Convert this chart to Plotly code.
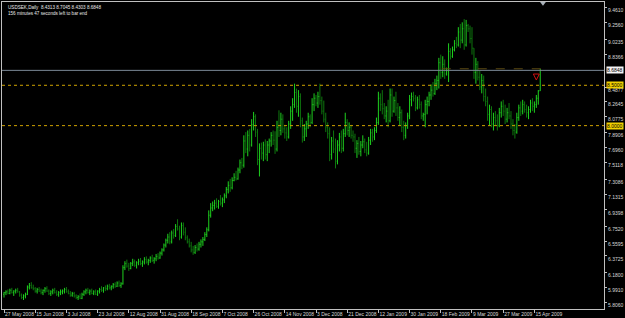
import plotly.graph_objects as go

# ---- daily USDSEK bars ----
open_ = [
    5.91, 5.93, 5.94, 5.92, 5.96, 5.93, 5.95, 5.96, 5.94, 5.90,
    5.87, 5.89, 5.91, 6.00, 6.02, 5.99, 5.98, 5.95, 5.97, 5.95,
    5.93, 5.96, 5.98, 5.95, 5.92, 5.94, 5.96, 5.93, 5.91, 5.93,
    5.94, 5.95, 5.97, 5.94, 5.92, 5.90, 5.92, 5.89, 5.87, 5.88,
    5.86, 5.91, 5.94, 5.96, 5.93, 5.95, 5.92, 5.94, 5.91, 5.95,
    5.97, 5.96, 5.99, 5.98, 6.01, 5.99, 6.01, 6.03, 6.01, 6.05,
    6.02, 6.04, 6.24, 6.29, 6.26, 6.23, 6.29, 6.31, 6.27, 6.30,
    6.32, 6.29, 6.31, 6.34, 6.31, 6.33, 6.36, 6.33, 6.35, 6.38,
    6.36, 6.42, 6.46, 6.52, 6.58, 6.62, 6.56, 6.67, 6.64, 6.75,
    6.72, 6.62, 6.76, 6.68, 6.61, 6.56, 6.51, 6.46, 6.43, 6.49,
    6.47, 6.53, 6.56, 6.59, 6.65, 6.71, 6.89, 6.98, 7.01, 7.04,
    7.00, 7.06, 7.04, 7.08, 7.13, 7.21, 7.26, 7.23, 7.32, 7.36,
    7.34, 7.45, 7.54, 7.51, 7.81, 7.71, 7.88, 7.76, 8.01, 8.11,
    7.92, 7.58, 7.72, 7.66, 7.76, 7.64, 7.76, 7.81, 7.88, 7.82,
    7.71, 7.98, 7.94, 8.08, 7.96, 7.91, 7.86, 8.02, 8.18, 8.26,
    8.41, 8.24, 8.36, 8.06, 7.86, 7.96, 8.02, 8.11, 8.04, 8.26,
    8.34, 8.28, 8.36, 8.31, 8.18, 8.08, 7.98, 7.90, 7.64, 7.81,
    7.71, 7.56, 7.76, 7.86, 7.72, 7.90, 8.04, 7.94, 7.98, 7.88,
    7.86, 7.72, 7.78, 7.68, 7.76, 7.80, 7.70, 7.66, 7.82, 7.91,
    7.86, 7.94, 8.04, 8.34, 8.26, 8.21, 8.12, 8.18, 8.06, 8.38,
    8.18, 8.31, 8.22, 8.10, 8.16, 7.98, 7.88, 8.00, 8.12, 8.32,
    8.36, 8.34, 8.22, 8.32, 8.26, 8.12, 8.14, 8.26, 8.30, 8.38,
    8.44, 8.40, 8.52, 8.56, 8.78, 8.66, 8.76, 8.64, 8.68, 8.92,
    8.86, 8.94, 9.02, 9.00, 9.16, 9.06, 9.20, 9.00, 9.24, 9.20,
    9.08, 8.96, 8.66, 8.76, 8.60, 8.48, 8.56, 8.36, 8.30, 8.14,
    8.20, 8.02, 8.10, 8.06, 8.00, 8.16, 8.24, 8.18, 8.08, 8.16,
    8.12, 8.02, 7.94, 7.92, 8.10, 8.22, 8.18, 8.26, 8.20, 8.16,
    8.20, 8.28, 8.24, 8.26, 8.34, 8.4313,
]
high = [
    5.94, 5.96, 5.97, 5.98, 5.99, 5.96, 5.98, 5.99, 5.95, 5.92,
    5.91, 5.93, 6.02, 6.05, 6.06, 6.03, 6.00, 5.99, 6.00, 5.98,
    5.97, 6.00, 6.01, 5.97, 5.96, 5.98, 5.99, 5.96, 5.95, 5.97,
    5.97, 5.99, 6.00, 5.97, 5.95, 5.94, 5.94, 5.91, 5.90, 5.92,
    5.93, 5.96, 5.98, 5.99, 5.97, 5.98, 5.96, 5.97, 5.96, 5.99,
    6.01, 6.00, 6.02, 6.03, 6.04, 6.02, 6.05, 6.06, 6.07, 6.08,
    6.06, 6.27, 6.32, 6.34, 6.30, 6.31, 6.35, 6.34, 6.32, 6.35,
    6.36, 6.33, 6.37, 6.38, 6.35, 6.38, 6.40, 6.37, 6.41, 6.42,
    6.44, 6.48, 6.54, 6.60, 6.66, 6.68, 6.70, 6.72, 6.78, 6.84,
    6.76, 6.80, 6.80, 6.74, 6.64, 6.60, 6.56, 6.51, 6.52, 6.54,
    6.56, 6.59, 6.62, 6.68, 6.74, 6.95, 7.04, 7.06, 7.08, 7.10,
    7.08, 7.14, 7.11, 7.16, 7.24, 7.31, 7.34, 7.36, 7.41, 7.44,
    7.48, 7.58, 7.60, 7.88, 7.92, 7.94, 7.96, 8.08, 8.17, 8.14,
    7.96, 7.78, 7.79, 7.80, 7.83, 7.81, 7.84, 7.92, 7.94, 7.93,
    8.06, 8.19, 8.16, 8.14, 8.01, 7.98, 8.06, 8.24, 8.34, 8.52,
    8.46, 8.44, 8.40, 8.10, 8.02, 8.06, 8.16, 8.14, 8.34, 8.40,
    8.38, 8.42, 8.52, 8.36, 8.31, 8.16, 8.04, 7.98, 7.86, 7.94,
    7.84, 7.82, 7.91, 7.94, 7.96, 8.16, 8.08, 8.04, 8.01, 7.94,
    7.90, 7.82, 7.86, 7.81, 7.88, 7.84, 7.80, 7.86, 7.96, 7.96,
    7.98, 8.10, 8.42, 8.40, 8.44, 8.28, 8.24, 8.32, 8.46, 8.46,
    8.36, 8.42, 8.28, 8.24, 8.20, 8.06, 8.04, 8.16, 8.38, 8.41,
    8.42, 8.38, 8.36, 8.38, 8.30, 8.16, 8.32, 8.36, 8.42, 8.51,
    8.54, 8.58, 8.62, 8.84, 8.88, 8.86, 8.82, 8.72, 9.02, 8.96,
    8.98, 9.06, 9.10, 9.22, 9.26, 9.28, 9.32, 9.31, 9.26, 9.24,
    9.22, 8.96, 8.84, 8.80, 8.68, 8.64, 8.62, 8.46, 8.36, 8.26,
    8.24, 8.16, 8.18, 8.14, 8.22, 8.30, 8.32, 8.26, 8.22, 8.28,
    8.18, 8.08, 8.02, 8.16, 8.26, 8.30, 8.32, 8.30, 8.26, 8.24,
    8.32, 8.34, 8.30, 8.38, 8.44, 8.7045,
]
low = [
    5.87, 5.90, 5.91, 5.91, 5.92, 5.89, 5.92, 5.93, 5.88, 5.85,
    5.84, 5.86, 5.90, 5.97, 5.98, 5.96, 5.93, 5.92, 5.94, 5.91,
    5.90, 5.93, 5.94, 5.90, 5.89, 5.91, 5.92, 5.89, 5.88, 5.90,
    5.91, 5.92, 5.93, 5.91, 5.88, 5.88, 5.87, 5.85, 5.84, 5.85,
    5.85, 5.89, 5.91, 5.92, 5.90, 5.91, 5.90, 5.90, 5.89, 5.92,
    5.94, 5.93, 5.95, 5.96, 5.97, 5.96, 5.98, 5.99, 6.00, 6.00,
    5.99, 6.03, 6.21, 6.24, 6.20, 6.22, 6.26, 6.25, 6.23, 6.27,
    6.27, 6.25, 6.28, 6.29, 6.27, 6.30, 6.31, 6.29, 6.32, 6.34,
    6.35, 6.39, 6.44, 6.49, 6.54, 6.53, 6.54, 6.60, 6.62, 6.70,
    6.58, 6.60, 6.64, 6.58, 6.54, 6.49, 6.43, 6.40, 6.41, 6.44,
    6.45, 6.49, 6.51, 6.57, 6.62, 6.69, 6.86, 6.94, 6.96, 6.98,
    6.97, 7.01, 6.99, 7.04, 7.10, 7.16, 7.18, 7.21, 7.31, 7.32,
    7.33, 7.41, 7.46, 7.48, 7.66, 7.62, 7.68, 7.74, 7.94, 7.86,
    7.51, 7.37, 7.58, 7.56, 7.58, 7.56, 7.66, 7.74, 7.76, 7.65,
    7.68, 7.86, 7.88, 7.91, 7.84, 7.81, 7.84, 7.96, 8.06, 8.22,
    8.16, 8.11, 7.98, 7.79, 7.81, 7.86, 7.96, 7.98, 8.02, 8.18,
    8.24, 8.22, 8.26, 8.14, 8.04, 7.92, 7.84, 7.56, 7.58, 7.66,
    7.47, 7.52, 7.68, 7.66, 7.68, 7.86, 7.88, 7.86, 7.84, 7.80,
    7.66, 7.60, 7.64, 7.62, 7.72, 7.66, 7.62, 7.64, 7.76, 7.80,
    7.82, 7.91, 8.01, 8.18, 8.14, 8.08, 8.04, 7.98, 8.04, 8.11,
    8.16, 8.12, 8.06, 8.00, 7.92, 7.82, 7.84, 7.96, 8.08, 8.24,
    8.30, 8.18, 8.20, 8.21, 8.08, 8.06, 7.98, 8.14, 8.24, 8.32,
    8.36, 8.38, 8.44, 8.46, 8.58, 8.60, 8.58, 8.62, 8.54, 8.82,
    8.84, 8.92, 8.96, 8.98, 8.96, 9.02, 8.94, 8.98, 9.16, 9.02,
    8.88, 8.58, 8.52, 8.56, 8.44, 8.40, 8.30, 8.24, 8.06, 8.00,
    7.98, 7.94, 8.00, 7.94, 7.98, 8.10, 8.12, 8.02, 8.04, 8.08,
    7.96, 7.88, 7.84, 7.90, 8.06, 8.12, 8.14, 8.16, 8.10, 8.08,
    8.16, 8.18, 8.16, 8.22, 8.26, 8.4303,
]
close = [
    5.93, 5.94, 5.92, 5.96, 5.93, 5.95, 5.96, 5.94, 5.90, 5.87,
    5.89, 5.91, 6.00, 6.02, 5.99, 5.98, 5.95, 5.97, 5.95, 5.93,
    5.96, 5.98, 5.95, 5.92, 5.94, 5.96, 5.93, 5.91, 5.93, 5.94,
    5.95, 5.97, 5.94, 5.92, 5.90, 5.92, 5.89, 5.87, 5.88, 5.86,
    5.91, 5.94, 5.96, 5.93, 5.95, 5.92, 5.94, 5.91, 5.95, 5.97,
    5.96, 5.99, 5.98, 6.01, 5.99, 6.01, 6.03, 6.01, 6.05, 6.02,
    6.04, 6.24, 6.29, 6.26, 6.23, 6.29, 6.31, 6.27, 6.30, 6.32,
    6.29, 6.31, 6.34, 6.31, 6.33, 6.36, 6.33, 6.35, 6.38, 6.36,
    6.42, 6.46, 6.52, 6.58, 6.62, 6.56, 6.67, 6.64, 6.75, 6.72,
    6.62, 6.76, 6.68, 6.61, 6.56, 6.51, 6.46, 6.43, 6.49, 6.47,
    6.53, 6.56, 6.59, 6.65, 6.71, 6.89, 6.98, 7.01, 7.04, 7.00,
    7.06, 7.04, 7.08, 7.13, 7.21, 7.26, 7.23, 7.32, 7.36, 7.34,
    7.45, 7.54, 7.51, 7.81, 7.71, 7.88, 7.76, 8.01, 8.11, 7.92,
    7.58, 7.72, 7.66, 7.76, 7.64, 7.76, 7.81, 7.88, 7.82, 7.71,
    7.98, 7.94, 8.08, 7.96, 7.91, 7.86, 8.02, 8.18, 8.26, 8.41,
    8.24, 8.36, 8.06, 7.86, 7.96, 8.02, 8.11, 8.04, 8.26, 8.34,
    8.28, 8.36, 8.31, 8.18, 8.08, 7.98, 7.90, 7.64, 7.81, 7.71,
    7.56, 7.76, 7.86, 7.72, 7.90, 8.04, 7.94, 7.98, 7.88, 7.86,
    7.72, 7.78, 7.68, 7.76, 7.80, 7.70, 7.66, 7.82, 7.91, 7.86,
    7.94, 8.04, 8.34, 8.26, 8.21, 8.12, 8.18, 8.06, 8.38, 8.18,
    8.31, 8.22, 8.10, 8.16, 7.98, 7.88, 8.00, 8.12, 8.32, 8.36,
    8.34, 8.22, 8.32, 8.26, 8.12, 8.14, 8.26, 8.30, 8.38, 8.44,
    8.40, 8.52, 8.56, 8.78, 8.66, 8.76, 8.64, 8.68, 8.92, 8.86,
    8.94, 9.02, 9.00, 9.16, 9.06, 9.20, 9.00, 9.24, 9.20, 9.08,
    8.96, 8.66, 8.76, 8.60, 8.48, 8.56, 8.36, 8.30, 8.14, 8.20,
    8.02, 8.10, 8.06, 8.00, 8.16, 8.24, 8.18, 8.08, 8.16, 8.12,
    8.02, 7.94, 7.92, 8.10, 8.22, 8.18, 8.26, 8.20, 8.16, 8.20,
    8.28, 8.24, 8.26, 8.34, 8.43, 8.6848,
]

date_labels = ["27 May 2008", "15 Jun 2008", "3 Jul 2008", "23 Jul 2008",
               "12 Aug 2008", "31 Aug 2008", "18 Sep 2008", "7 Oct 2008",
               "26 Oct 2008", "14 Nov 2008", "3 Dec 2008", "21 Dec 2008",
               "12 Jan 2009", "30 Jan 2009", "18 Feb 2009", "9 Mar 2009",
               "27 Mar 2009", "15 Apr 2009"]
bars_per_label = 16

# price-scale label texts, as printed on the chart
price_labels = ["9.4610", "9.2560", "9.0235", "8.8366", "8.4877", "8.2645",
                "8.0775", "7.8906", "7.6960", "7.5118", "7.3086", "7.1315",
                "6.9398", "6.7520", "6.5595", "6.3725", "6.1800", "5.9910",
                "5.8060"]
# where each of those labels sits on the price scale
price_label_at = [9.461, 9.275, 9.070, 8.884, 8.470, 8.305, 8.115, 7.921,
                  7.729, 7.541, 7.335, 7.144, 6.955, 6.756, 6.567, 6.385,
                  6.186, 5.992, 5.806]

symbol = "USDSEK,Daily"
last_bar = [8.4313, 8.7045, 8.4303, 8.6848]
bid_price = 8.6848
alert_levels = [8.5000, 8.0000]
dashed_level = 8.7045
dashed_from_bar, dashed_to_bar = 224.5, 279
signal_bar, signal_price = 273, 8.565
shift_bar = 276.4

bars = list(range(len(close)))

BG = "#000000"
AXIS = "#c0c0c0"
TXT = "#d8d8d8"
FONT = "Liberation Sans"

fig = go.Figure()
fig.add_trace(go.Ohlc(
    x=bars, open=open_, high=high, low=low, close=close,
    increasing=dict(line=dict(color="#1ed01e", width=1)),
    decreasing=dict(line=dict(color="#0e760e", width=1)),
    tickwidth=0.35, hoverinfo="skip", showlegend=False,
))

# signal arrow
fig.add_trace(go.Scatter(
    x=[signal_bar], y=[signal_price], mode="markers",
    marker=dict(symbol="arrow-down-open", size=6, color="#d01010",
                line=dict(color="#d01010", width=1)),
    hoverinfo="skip", showlegend=False,
))
# chart shift marker
fig.add_trace(go.Scatter(
    x=[shift_bar], y=[9.515], mode="markers", cliponaxis=False,
    marker=dict(symbol="triangle-down", size=5, color="#a8b0b8"),
    hoverinfo="skip", showlegend=False,
))

shapes = [
    dict(type="line", xref="paper", x0=0, x1=1, yref="y", y0=bid_price, y1=bid_price,
         line=dict(color="#7a8896", width=1)),
    dict(type="line", xref="x", x0=dashed_from_bar, x1=dashed_to_bar, yref="y",
         y0=dashed_level, y1=dashed_level, line=dict(color="#5c4a12", width=1, dash="dash")),
]
for lv in alert_levels:
    shapes.append(dict(type="line", xref="paper", x0=0, x1=1, yref="y", y0=lv, y1=lv,
                       line=dict(color="#cfa200", width=1, dash="dot")))

annotations = [
    dict(xref="paper", yref="paper", x=0, y=1, xanchor="left", yanchor="top",
         xshift=4, yshift=-1, align="left", showarrow=False,
         text=f"{symbol}  " + " ".join(f"{v:.4f}" for v in last_bar)
              + "<br>156 minutes 47 seconds left to bar end",
         font=dict(family=FONT, size=4.6, color="#e8e8e8")),
    dict(xref="paper", x=1, xanchor="left", xshift=2, yref="y", y=bid_price,
         yanchor="middle", showarrow=False, text=f"{bid_price:.4f}",
         bgcolor="#f4f4f4", borderpad=0, font=dict(family=FONT, size=5, color="#000000")),
]
for lv in alert_levels:
    annotations.append(dict(xref="paper", x=1, xanchor="left", xshift=2, yref="y", y=lv,
                            yanchor="middle", showarrow=False, text=f"{lv:.4f}",
                            bgcolor="#f0d000", borderpad=0,
                            font=dict(family=FONT, size=5, color="#000000")))

fig.update_layout(
    width=625, height=318,
    margin=dict(l=2, r=21, t=2, b=9, autoexpand=False),
    paper_bgcolor=BG, plot_bgcolor=BG,
    showlegend=False, hovermode=False,
    shapes=shapes, annotations=annotations,
    xaxis=dict(
        range=[-1.03, 307.7], rangeslider=dict(visible=False),
        tickvals=[k * bars_per_label for k in range(len(date_labels))],
        ticktext=date_labels, ticklabelposition="outside right",
        tickangle=0, automargin=False,
        ticks="outside", ticklen=3, tickcolor=AXIS,
        showline=True, linecolor=AXIS, linewidth=1, mirror=True,
        showgrid=False, zeroline=False,
        tickfont=dict(family=FONT, size=5, color=TXT),
    ),
    yaxis=dict(
        side="right", range=[5.728, 9.532], automargin=False,
        tickvals=price_label_at, ticktext=price_labels,
        ticks="outside", ticklen=2, tickcolor=AXIS, ticklabelshift=3,
        showline=True, linecolor=AXIS, linewidth=1, mirror=True,
        showgrid=False, zeroline=False,
        tickfont=dict(family=FONT, size=5, color=TXT),
    ),
)

fig.write_html("out.html")
